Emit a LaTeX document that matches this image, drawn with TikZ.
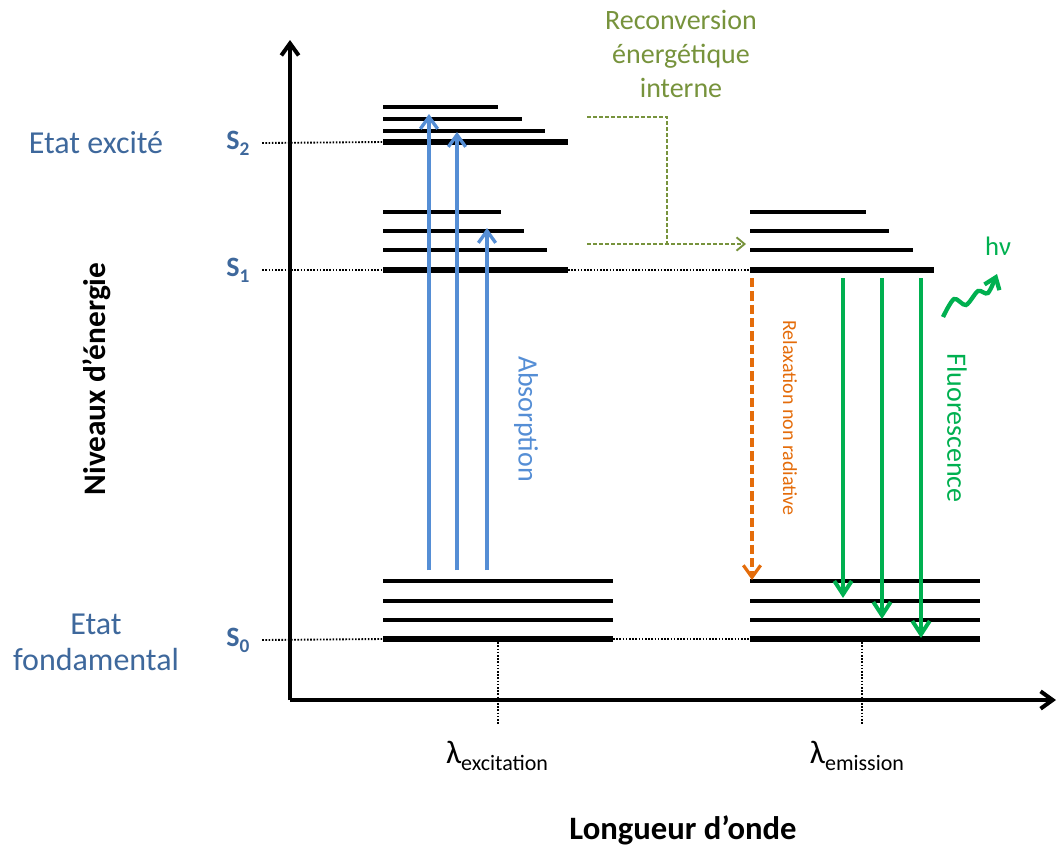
\documentclass[tikz,border=0pt]{standalone}
\usepackage{fontspec}
\setmainfont{Carlito}
\usetikzlibrary{arrows.meta}

\definecolor{statecol}{RGB}{62,104,156}
\definecolor{abscol}{RGB}{85,142,213}
\definecolor{olivecol}{RGB}{119,147,60}
\definecolor{orangecol}{RGB}{228,108,10}
\definecolor{fluocol}{RGB}{0,176,80}

\newcommand{\lowidx}[2]{\raisebox{-0.45ex}{\fontsize{#1}{#1}\selectfont #2}}

\begin{document}
\begin{tikzpicture}[x=0.75pt,y=-0.75pt,
    axis/.style={line width=3pt, -{Straight Barb[length=9pt,width=13pt]}},
    ground/.style={line width=4.5pt},
    vib/.style={line width=2.3pt},
    guide/.style={line width=1.4pt, dash pattern=on 1.2pt off 1.2pt},
    absarrow/.style={abscol, line width=2.5pt, -{Straight Barb[length=9pt,width=13pt]}},
    fluoarrow/.style={fluocol, line width=3pt, -{Straight Barb[length=10pt,width=13pt]}},
    statelabel/.style={statecol, font=\fontsize{24}{27}\selectfont},
    levellabel/.style={statecol, font=\fontsize{21}{21}\selectfont\bfseries}]
  \useasboundingbox (0,0) rectangle (1058,847);
  %
  \coordinate (o) at (290,700);
  \coordinate (ytop) at (290,40);
  \coordinate (xend) at (1056,700);
  %
  \draw[axis] (o) -- (ytop);
  \draw[axis] (o) -- (xend);
  %
  % levels, absorption side
  \draw[ground] (383,142) coordinate (s2a) -- (568,142) coordinate (s2b);
  \foreach \y/\x in {131/545,119/522,107/498}
    \draw[vib] (383,\y) -- (\x,\y);
  \draw[ground] (383,270) coordinate (s1a) -- (568,270) coordinate (s1b);
  \foreach \y/\x in {250/547,231/524,212/501}
    \draw[vib] (383,\y) -- (\x,\y);
  \draw[ground] (383,639) coordinate (s0a) -- (613,639) coordinate (s0b);
  \foreach \y in {620,601,581}
    \draw[vib] (383,\y) -- (613,\y);
  %
  % levels, emission side
  \draw[ground] (750,270) coordinate (t1a) -- (934,270) coordinate (t1b);
  \foreach \y/\x in {250/913,231/889,212/866}
    \draw[vib] (750,\y) -- (\x,\y);
  \draw[ground] (750,639) coordinate (t0a) -- (980,639) coordinate (t0b);
  \foreach \y in {620,601,581}
    \draw[vib] (750,\y) -- (980,\y);
  %
  % level names
  \node[levellabel] (s2) at (238,143) {S\lowidx{14.5}{2}};
  \node[levellabel] (s1) at (238,270) {S\lowidx{14.5}{1}};
  \node[levellabel] (s0) at (238,640) {S\lowidx{14.5}{0}};
  \node[statelabel] (exc) at (96,143) {Etat excité};
  \node[statelabel, align=center] (fond) at (96,642) {Etat\\fondamental};
  %
  \draw[guide] ([xshift=6pt]s2.east) -- (s2a);
  \draw[guide] ([xshift=6pt]s1.east) -- (s1a);
  \draw[guide] ([xshift=6pt]s0.east) -- (s0a);
  \draw[guide] (s1b) -- (t1a);
  \draw[guide] (s0b) -- (t0a);
  %
  % wavelengths
  \node[font=\fontsize{24.5}{24.5}\selectfont] (lexc) at (497,756)
    {λ\lowidx{16.5}{excitation}};
  \node[font=\fontsize{24.5}{24.5}\selectfont] (lemi) at (857,756)
    {λ\lowidx{16.5}{emission}};
  \coordinate (exctop) at (498,639);
  \coordinate (emitop) at (862,639);
  \draw[guide] (exctop) -- (498,725);
  \draw[guide] (emitop) -- (862,725);
  %
  % absorption
  \foreach \x/\y in {429/114,457/132,487/228}
    \draw[absarrow] (\x,570) -- (\x,\y);
  \node[abscol, rotate=-90, font=\fontsize{21}{21}\selectfont] (abs) at (526,419) {Absorption};
  %
  % internal conversion
  \coordinate (icup) at (587,117);
  \coordinate (iclow) at (587,244);
  \coordinate (icend) at (746,244);
  \draw[olivecol, line width=1.4pt, dash pattern=on 3pt off 1.5pt] (icup) -| (667,244);
  \draw[olivecol, line width=1.4pt, dash pattern=on 3pt off 1.5pt,
    -{Straight Barb[length=6pt,width=10pt]}] (iclow) -- (icend);
  \node[olivecol, align=center, font=\fontsize{21}{25.5}\selectfont] (reconv) at (681,54)
    {Reconversion\\énergétique\\interne};
  %
  % non radiative relaxation
  \draw[orangecol, line width=2.4pt, dash pattern=on 7pt off 3pt,
    -{Straight Barb[length=9pt,width=13pt]}] (752,278) -- (752,580);
  \node[orangecol, rotate=-90, font=\fontsize{15}{15}\selectfont] (relax) at (790,418)
    {Relaxation non radiative};
  %
  % fluorescence
  \foreach \x/\y in {843/598,882/619,921/638}
    \draw[fluoarrow] (\x,278) -- (\x,\y);
  \node[fluocol, rotate=-90, font=\fontsize{21}{21}\selectfont] (fluo) at (957,428) {Fluorescence};
  \node[fluocol, font=\fontsize{20}{20}\selectfont] (hnu) at (998,246) {hν};
  \draw[fluocol, line width=3.2pt, -{Straight Barb[length=8pt,width=12pt]}]
    plot[smooth] coordinates {(943,317) (954,299) (966,305) (978,291) (988,293) (997,274)};
  %
  % axis names
  \node[rotate=90, font=\fontsize{23.5}{23.5}\selectfont\bfseries] (ylab) at (97,379) {Niveaux d’énergie};
  \node[font=\fontsize{24.5}{24.5}\selectfont\bfseries] (xlab) at (683,830) {Longueur d’onde};
\end{tikzpicture}
\end{document}
